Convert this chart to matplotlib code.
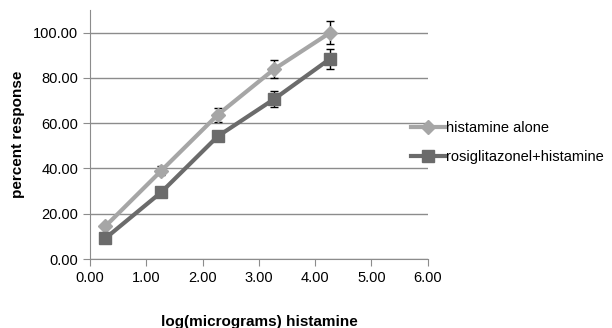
import numpy as np
import matplotlib.pyplot as plt
from matplotlib.lines import Line2D

plt.rcParams['font.family'] = ['Liberation Sans', 'DejaVu Sans']

x = [0.27, 1.27, 2.27, 3.27, 4.27]
hist_alone = [14.4, 39.1, 63.7, 83.8, 100.0]
hist_err = [0.8, 2.0, 3.2, 4.0, 5.0]
rosi = [9.1, 29.6, 54.2, 70.6, 88.5]
rosi_err = [0.8, 0.8, 1.5, 3.6, 4.4]
names = ['histamine alone', 'rosiglitazonel+histamine']
c_light = '#A6A6A6'
c_dark = '#6B6B6B'

fig = plt.figure(figsize=(6.12, 3.28), dpi=100)
ax = fig.add_axes([0.147, 0.21, 0.552, 0.76])

ax.errorbar(x, hist_alone, yerr=hist_err, color=c_light, lw=3, marker='D',
            ms=7, ecolor='black', elinewidth=1, capsize=3, zorder=3)
ax.errorbar(x, rosi, yerr=rosi_err, color=c_dark, lw=3, marker='s',
            ms=9, ecolor='black', elinewidth=1, capsize=3, zorder=3)

ax.set_xlim(0, 6)
ax.set_ylim(0, 110)
ax.set_xticks(np.arange(0, 7, 1))
ax.set_yticks(np.arange(0, 101, 20))
ax.set_xticklabels(['%.2f' % v for v in np.arange(0, 7, 1)])
ax.set_yticklabels(['%.2f' % v for v in np.arange(0, 101, 20)])
ax.yaxis.grid(True, color='#8C8C8C', lw=1)
ax.set_axisbelow(True)
for s in ['top', 'right']:
    ax.spines[s].set_visible(False)
for s in ['left', 'bottom']:
    ax.spines[s].set_color('#8C8C8C')
ax.tick_params(axis='both', labelsize=10.5, color='#8C8C8C', length=5)

ax.set_ylabel('percent response', fontsize=11, fontweight='bold', labelpad=6)
fig.text(0.423, 0.018, 'log(micrograms) histamine', fontsize=11,
         fontweight='bold', ha='center', va='center')

handles = [Line2D([], [], color=c_light, lw=3, marker='D', ms=7),
           Line2D([], [], color=c_dark, lw=3, marker='s', ms=9)]
fig.legend(handles, names, loc='center left', bbox_to_anchor=(0.672, 0.565),
           frameon=False, fontsize=10.5, handlelength=2.3, handletextpad=0.1,
           labelspacing=1.0, borderaxespad=0, borderpad=0)

fig.savefig('out.png', dpi=100)
